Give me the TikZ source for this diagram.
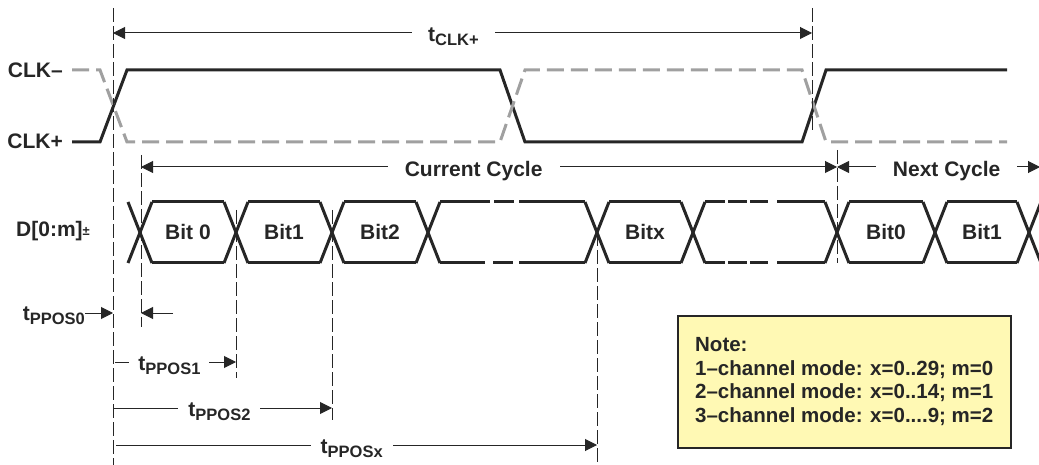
\documentclass[tikz,border=0pt]{standalone}
\usepackage{fontspec}
\setmainfont{Liberation Sans}
\usetikzlibrary{arrows.meta}

\definecolor{inkdark}{RGB}{38,38,38}
\definecolor{clkgray}{RGB}{160,160,160}
\definecolor{notefill}{RGB}{255,249,180}

\newcommand{\tsub}[1]{t\raisebox{-4pt}{\fontsize{16.5}{16.5}\selectfont #1}}

\tikzset{
  sig/.style={line width=3pt, draw=inkdark},
  clkneg/.style={line width=3pt, draw=clkgray, dash pattern=on 17pt off 7pt},
  marker/.style={line width=0.9pt, draw=inkdark, dash pattern=on 14pt off 4pt},
  dimr/.style={line width=1pt, draw=inkdark, -{Triangle[length=12pt,width=12pt]}},
  dimb/.style={line width=1pt, draw=inkdark, {Triangle[length=12pt,width=12pt]}-{Triangle[length=12pt,width=12pt]}},
  lbl/.style={font=\fontsize{21}{24}\selectfont\bfseries, text=inkdark, inner sep=1pt},
  gaplbl/.style={lbl, fill=white, yshift=-4pt},
}

\begin{document}
\begin{tikzpicture}[x=1pt,y=-1pt]
\useasboundingbox (0,0) rectangle (1039,465);

% Signal names
\node[lbl, anchor=east] (nclkn) at (64,70) {CLK–};
\node[lbl, anchor=east] (nclkp) at (64,141) {CLK+};
\node[lbl, anchor=west] (ndata) at (15,231) {D[0:m]\raisebox{1pt}{\fontsize{13}{13}\selectfont ±}};

% Clock
\draw[sig] (72,142) -- (100,142) -- (127,70) -- (500,70) -- (525,142) -- (802,142) -- (826,70) -- (1007,70);
\draw[clkneg] (72,70) -- (100,70) -- (127,142) -- (500,142) -- (525,70) -- (802,70) -- (826,142) -- (1007,142);

% Reference markers
\coordinate (mk0) at (113,8);
\coordinate (mk1) at (141,155);
\coordinate (mk2) at (236,210);
\coordinate (mk3) at (332,210);
\coordinate (mkx) at (597,232);
\coordinate (mkc) at (812,8);
\coordinate (mkn) at (837,150);
\draw[marker] (mk0) -- (113,465);
\draw[marker] (mk1) -- (141,327);
\draw[marker] (mk2) -- (236,378);
\draw[marker] (mk3) -- (332,420);
\draw[marker] (mkx) -- (597,463);
\draw[marker] (mkc) -- (812,133);
\draw[marker] (mkn) -- (837,263);

% Data bus
\foreach \xc in {140,236,332,428,597,693,837,935,1029} {
  \draw[sig] (\xc-12,202) -- (\xc+12,263);
  \draw[sig] (\xc-12,263) -- (\xc+12,202);
}
\foreach \xa/\xb in {140/236,236/332,332/428,597/693,837/935,935/1029} {
  \draw[sig] (\xa+12,202) -- (\xb-12,202);
  \draw[sig] (\xa+12,263) -- (\xb-12,263);
}
\draw[sig, dash pattern=on 50pt off 4pt on 20pt off 5pt on 100pt] (440,202) -- (585,202);
\draw[sig, dash pattern=on 45pt off 8pt on 20pt off 6pt on 100pt] (440,263) -- (585,263);
\draw[sig, dash pattern=on 20pt off 3pt on 19pt off 3pt on 18pt off 9pt on 100pt] (705,202) -- (825,202);
\draw[sig, dash pattern=on 20pt off 3pt on 19pt off 3pt on 18pt off 9pt on 100pt] (705,263) -- (825,263);

\node[lbl] (bit0) at (188,232) {Bit 0};
\node[lbl] (bit1) at (284,232) {Bit1};
\node[lbl] (bit2) at (380,232) {Bit2};
\node[lbl] (bitx) at (645,232) {Bitx};
\node[lbl] (nbit0) at (886,232) {Bit0};
\node[lbl] (nbit1) at (982,232) {Bit1};

% Timing arrows
\coordinate (tc0) at (113,33);
\coordinate (cc0) at (141,167);
\coordinate (nc1) at (1040,167);
\draw[dimb] (tc0) -- node[gaplbl, pos=0.487, inner xsep=16pt] (tclk) {\tsub{CLK+}} (mkc |- tc0);
\draw[dimb] (cc0) -- node[gaplbl, pos=0.478, inner xsep=17pt] (ccyc) {Current Cycle} (mkn |- cc0);
\draw[dimb] (mkn |- cc0) -- node[gaplbl, pos=0.54, inner xsep=17pt] (ncyc) {Next Cycle} (nc1);

\coordinate (p0a) at (85,313);
\coordinate (p0b) at (173,313);
\node[lbl, anchor=east] (tp0) at (86,316) {\tsub{PPOS0}};
\draw[dimr] (p0a) -- (mk0 |- p0a);
\draw[dimr] (p0b) -- (mk1 |- p0b);

\coordinate (p1) at (115,362);
\coordinate (p2) at (113,408);
\coordinate (px) at (116,445);
\draw[dimr] (p1) -- node[gaplbl, pos=0.45, inner xsep=9pt] (tp1) {\tsub{PPOS1}} (mk2 |- p1);
\draw[dimr] (p2) -- node[gaplbl, pos=0.486, inner xsep=10pt] (tp2) {\tsub{PPOS2}} (mk3 |- p2);
\draw[dimr] (px) -- node[gaplbl, pos=0.49, inner xsep=10pt] (tpx) {\tsub{PPOSx}} (mkx |- px);

% Note
\node[lbl, draw=inkdark, line width=1.5pt, fill=notefill, anchor=north west,
  minimum width=333pt, minimum height=132pt,
  align=left, font=\fontsize{20.5}{23.5}\selectfont\bfseries] (note) at (677,315)
  {Note:\\1–channel mode: x=0..29; m=0\\2–channel mode: x=0..14; m=1\\3–channel mode: x=0....9; m=2};

\end{tikzpicture}
\end{document}
